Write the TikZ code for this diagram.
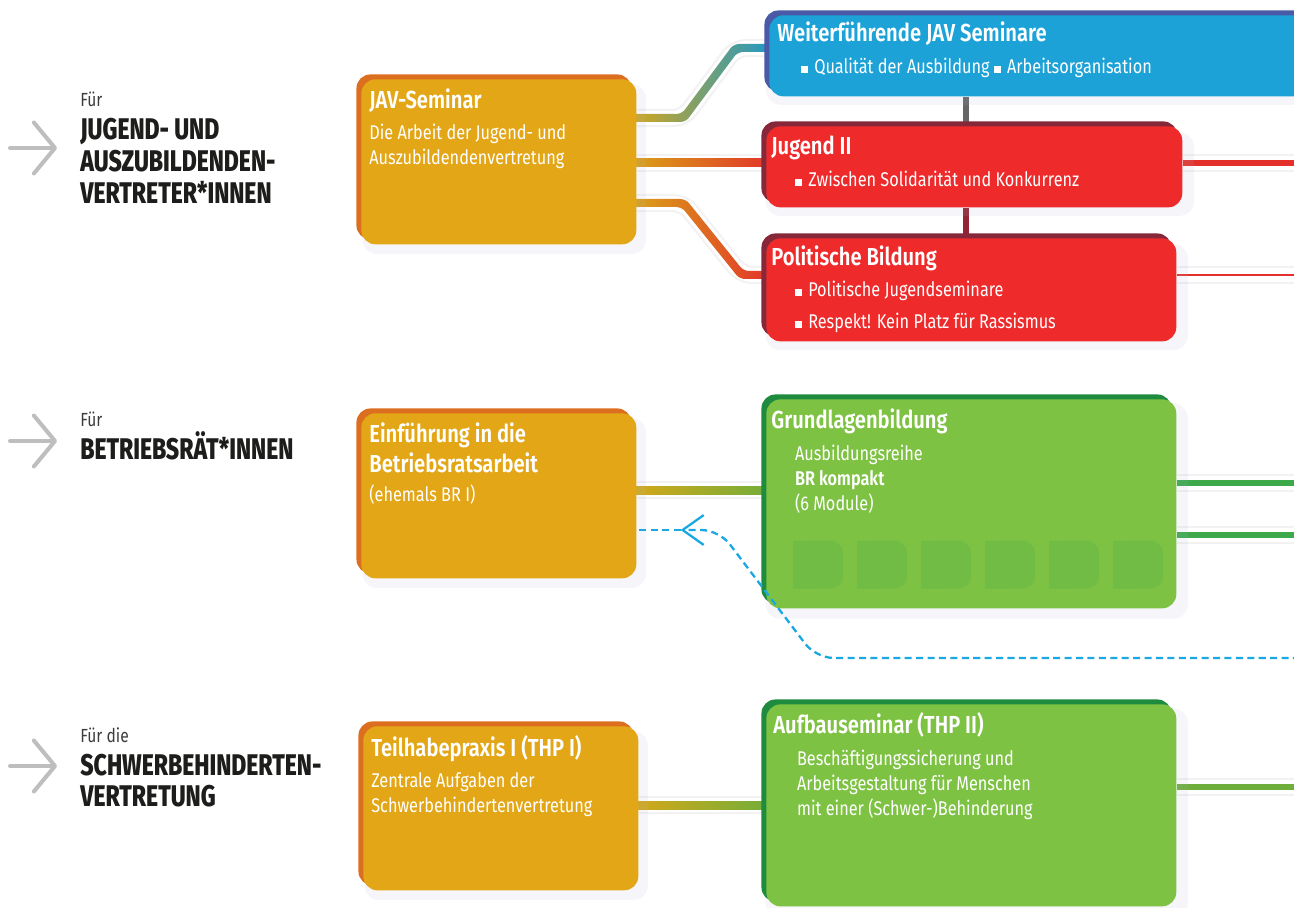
\documentclass[tikz,border=0pt]{standalone}
\usepackage{fontspec}
\setmainfont{Fira Sans}[BoldFont={* SemiBold}, FakeStretch=0.82]
\newfontfamily\heavyfont{Fira Sans}[UprightFont={* ExtraBold}, FakeStretch=0.77]
\usepackage{xcolor}
\usepackage{tikz}
\usetikzlibrary{positioning, calc, shadows, arrows.meta, backgrounds}

\definecolor{boxorange}{HTML}{E3A617}
\definecolor{edgeorange}{HTML}{DC6E1F}
\definecolor{boxblue}{HTML}{1CA2D7}
\definecolor{edgeblue}{HTML}{4B5AA6}
\definecolor{boxred}{HTML}{EE2A2B}
\definecolor{edgered}{HTML}{86283A}
\definecolor{boxgreen}{HTML}{7EC243}
\definecolor{edgegreen}{HTML}{1F8B3F}
\definecolor{modgreen}{HTML}{70BC45}
\definecolor{linkgold}{HTML}{D9A717}
\definecolor{linkblue}{HTML}{1598CF}
\definecolor{linkred}{HTML}{E3302B}
\definecolor{linkgreen}{HTML}{6EAE3C}
\definecolor{outgreen}{HTML}{3DA94A}
\definecolor{dashblue}{HTML}{1AA8E2}
\definecolor{arrowgray}{HTML}{BEBEBE}
\definecolor{shadowblue}{HTML}{AEB4D6}
\definecolor{labelblack}{HTML}{1D1D1B}
\definecolor{fuergray}{HTML}{3C3C3B}

\newcommand{\sq}{\rule[0.6pt]{4pt}{4pt}\hspace{3.5pt}}
\newcommand{\ind}{\hspace*{13.5pt}}
\newcommand{\titlefont}{\bfseries\fontsize{14}{16.4}\selectfont}
\newcommand{\bodyfont}{\fontsize{11.3}{14.2}\selectfont}
\newcommand{\fuer}[1]{{\normalfont\fontsize{10.8}{12}\selectfont\color{fuergray}#1}}

\begin{document}
\begin{tikzpicture}[
    x=0.02cm, y=-0.02cm,
    colbox/.style 2 args={
        rectangle, rounded corners=8pt, anchor=north west, inner sep=0pt, fill=#1,
        general shadow={fill=shadowblue, opacity=0.12, shadow xshift=3pt, shadow yshift=-4pt, shadow scale=1.03},
        general shadow={fill=#2, shadow xshift=-2.8pt, shadow yshift=2.8pt}
    },
    boxtext/.style={anchor=north west, inner sep=0pt, align=left, text=white, font=\bodyfont},
    grouplabel/.style={anchor=north west, inner sep=0pt, align=left, text=labelblack,
        font=\heavyfont\fontsize{17}{18.1}\selectfont},
    grouparrow/.style={draw=arrowgray, line width=2.3pt, line cap=round,
        -{Straight Barb[length=12pt, width=29pt, round]}},
    halo/.style={draw=black!5, double=white, double distance=8pt, line width=1.2pt},
    outlink/.style={preaction={halo}, draw=#1, line width=3.4pt},
    module/.style={fill=modgreen, rounded corners=7pt},
    dashlink/.style={draw=dashblue, line width=1.3pt, dash pattern=on 4pt off 2.5pt, rounded corners=10pt}
]

\useasboundingbox (0,0) rectangle (1294,908);

% Target groups
\node[grouplabel] (lab-jav) at (80,92) {\fuer{Für}\\[0.6pt] JUGEND- UND\\ AUSZUBILDENDEN-\\ VERTRETER*INNEN};
\node[grouplabel] (lab-br) at (80,412) {\fuer{Für}\\[0.6pt] BETRIEBSRÄT*INNEN};
\node[grouplabel] (lab-sbv) at (80,727) {\fuer{Für die}\\[0.6pt] SCHWERBEHINDERTEN-\\ VERTRETUNG};

\coordinate (arr-jav) at (10,148);
\coordinate (arr-br) at (10,441);
\coordinate (arr-sbv) at (10,766);
\draw[grouparrow] (arr-jav) -- ++(47,0);
\draw[grouparrow] (arr-br) -- ++(47,0);
\draw[grouparrow] (arr-sbv) -- ++(47,0);

% Seminar boxes
\node[colbox={boxorange}{edgeorange}, minimum width=5.5cm, minimum height=3.3cm] (jav) at (361,79) {};
\node[colbox={boxorange}{edgeorange}, minimum width=5.5cm, minimum height=3.3cm] (einf) at (361,413) {};
\node[colbox={boxorange}{edgeorange}, minimum width=5.5cm, minimum height=3.28cm] (thp) at (363,726) {};

\node[colbox={boxblue}{edgeblue}, minimum width=11.6cm, minimum height=1.62cm] (wjav) at (769,15) {};
\node[colbox={boxred}{edgered}, minimum width=8.32cm, minimum height=1.62cm] (jug) at (766,126) {};
\node[colbox={boxred}{edgered}, minimum width=8.2cm, minimum height=2.06cm] (pol) at (766,238) {};
\node[colbox={boxgreen}{edgegreen}, minimum width=8.2cm, minimum height=4.18cm] (grund) at (766,399) {};
\node[colbox={boxgreen}{edgegreen}, minimum width=8.2cm, minimum height=4.04cm] (aufb) at (766,704) {};

% Six modules
\foreach \k in {0,...,5} {
    \fill[module] ($(grund.south west)+(27+64*\k,-68)$) rectangle ++(50,48);
    \fill[modgreen] ($(grund.south west)+(27+64*\k,-68)$) rectangle ++(25,48);
}

% Box texts
\node[boxtext] (jav-t) at ($(jav.north west)+(8,9)$)
    {{\titlefont JAV-Seminar}\\[3.9pt] Die Arbeit der Jugend- und\\ Auszubildendenvertretung};
\node[boxtext] (einf-t) at ($(einf.north west)+(8,9)$)
    {{\titlefont Einführung in die}\\[2.2pt] {\titlefont Betriebsratsarbeit}\\[2.2pt] (ehemals BR I)};
\node[boxtext] (thp-t) at ($(thp.north west)+(8,9)$)
    {{\titlefont Teilhabepraxis I (THP I)}\\[3.4pt] Zentrale Aufgaben der\\ Schwerbehindertenvertretung};
\node[boxtext] (wjav-t) at ($(wjav.north west)+(8,6)$)
    {{\titlefont Weiterführende JAV Seminare}\\[4.5pt] \ind\sq Qualität der Ausbildung \sq Arbeitsorganisation};
\node[boxtext] (jug-t) at ($(jug.north west)+(5,10)$)
    {{\titlefont Jugend II}\\[3.9pt] \ind\sq Zwischen Solidarität und Konkurrenz};
\node[boxtext] (pol-t) at ($(pol.north west)+(5,7)$)
    {{\titlefont Politische Bildung}\\[3.9pt] \ind\sq Politische Jugendseminare\\[3.9pt] \ind\sq Respekt! Kein Platz für Rassismus};
\node[boxtext] (grund-t) at ($(grund.north west)+(5,9)$)
    {{\titlefont Grundlagenbildung}\\[4.5pt] \ind Ausbildungsreihe\\ \ind\textbf{BR kompakt}\\ \ind(6 Module)};
\node[boxtext] (aufb-t) at ($(aufb.north west)+(7,8)$)
    {{\titlefont Aufbauseminar (THP II)}\\[3.9pt] \ind Beschäftigungssicherung und\\ \ind Arbeitsgestaltung für Menschen\\ \ind mit einer (Schwer-)Behinderung};

% Connectors
\begin{scope}[on background layer]
    \fill[white] (0,0) rectangle (1294,908);

    % JAV-Seminar to the next seminars
    \draw[halo, rounded corners=6pt] ($(jav.north east)+(0,39)$) -- ++(47,0) -- ++(52,-70) -- ($(wjav.north west)+(0,33)$);
    \shade[left color=linkgold, right color=linkblue, rounded corners=3pt]
        ($(jav.north east)+(-10,35)$) -- ++(55,0) -- ++(52,-70) -- ++(46,0) -- ++(0,8)
        -- ++(-42,0) -- ++(-52,70) -- ++(-59,0) -- cycle;

    \draw[halo] ($(jav.north east)+(0,84)$) -- ($(jug.north west)+(0,37)$);
    \shade[left color=linkgold, right color=linkred] ($(jav.north east)+(-10,80)$) rectangle ($(jug.north west)+(10,41)$);

    \draw[halo, rounded corners=6pt] ($(jav.north east)+(0,124)$) -- ++(47,0) -- ++(58,72) -- ($(pol.north west)+(0,37)$);
    \shade[left color=linkgold, right color=linkred, rounded corners=3pt]
        ($(jav.north east)+(-10,120)$) -- ++(59,0) -- ++(58,72) -- ++(33,0) -- ++(0,8)
        -- ++(-37,0) -- ++(-58,-72) -- ++(-55,0) -- cycle;

    \draw[halo] ($(einf.north east)+(0,77)$) -- ($(grund.north west)+(0,91)$);
    \shade[left color=linkgold, right color=linkgreen] ($(einf.north east)+(-10,73)$) rectangle ($(grund.north west)+(10,95)$);

    \draw[halo] ($(thp.north east)+(0,79)$) -- ($(aufb.north west)+(0,101)$);
    \shade[left color=linkgold, right color=linkgreen] ($(thp.north east)+(-10,75)$) rectangle ($(aufb.north west)+(10,105)$);

    % vertical links
    \draw[draw=black!60, line width=3.4pt] ($(jug.north west)+(200,0)$) -- ($(wjav.south west)+(197,0)$);
    \draw[draw=edgered!90!red, line width=3.4pt] ($(pol.north west)+(200,0)$) -- ($(jug.south west)+(200,0)$);

    % outgoing links
    \draw[outlink=linkred] ($(jug.north east)+(0,37)$) -- ++(130,0);
    \draw[outlink=linkred, line width=1.1pt] ($(pol.north east)+(0,37)$) -- ++(130,0);
    \draw[outlink=outgreen] ($(grund.north east)+(0,84)$) -- ++(130,0);
    \draw[outlink=outgreen] ($(grund.north east)+(0,136)$) -- ++(130,0);
    \draw[outlink=linkgreen] ($(aufb.north east)+(0,83)$) -- ++(130,0);
\end{scope}

% Return path to the introduction
\coordinate (dash-in) at (1300,658);
\draw[dashlink, -{Straight Barb[length=12pt, width=17pt]}] (dash-in) -- (816,658) -- (719,530) -- ($(einf.north east)+(44,117)$);
\draw[dashlink] ($(einf.north east)+(44,117)$) -- ($(einf.north east)+(0,117)$);

\end{tikzpicture}
\end{document}
